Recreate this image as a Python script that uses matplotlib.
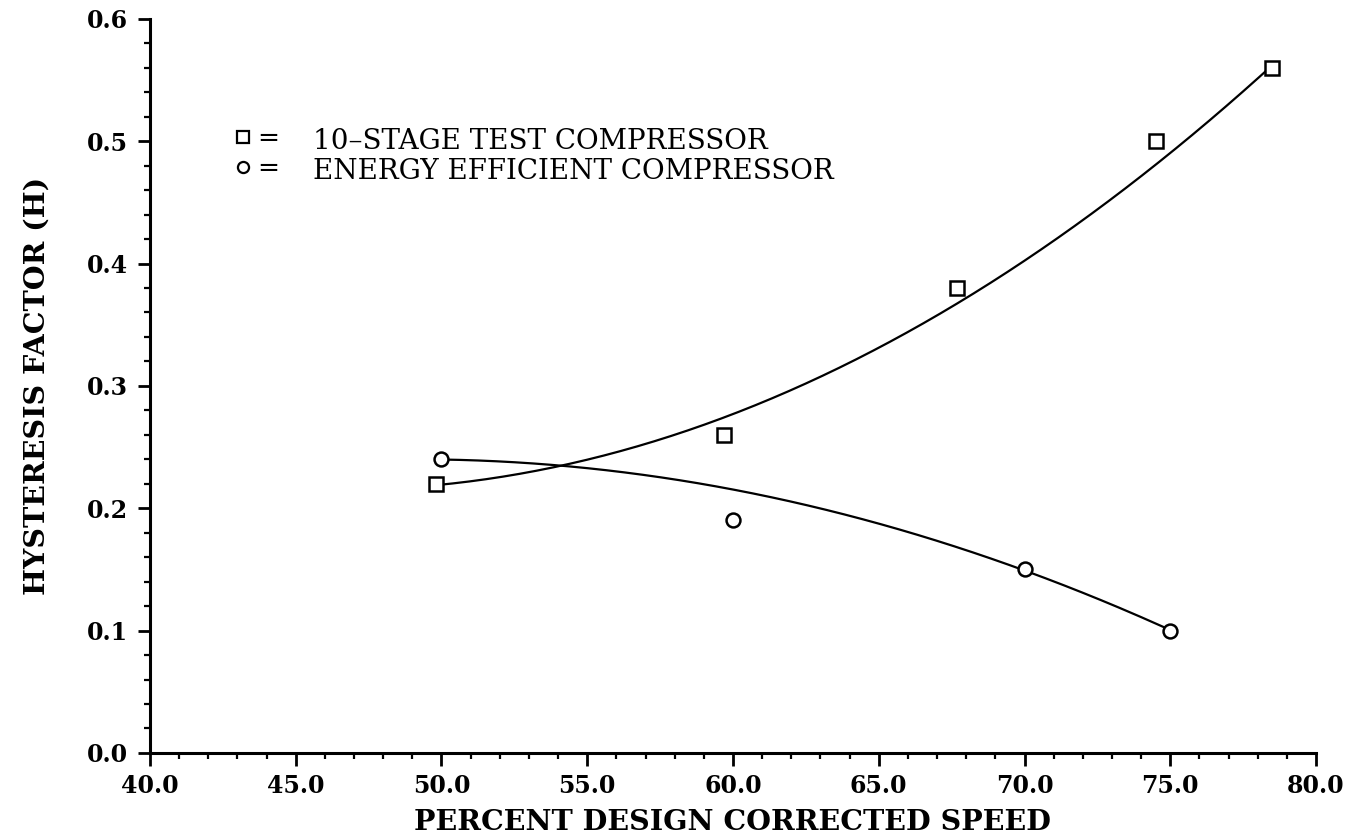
import matplotlib
matplotlib.use("Agg")
import matplotlib.pyplot as plt
from matplotlib.ticker import MultipleLocator, FormatStrFormatter
import numpy as np

# Measured hysteresis factor vs. corrected speed
speed_10stage = [49.8, 59.7, 67.7, 74.5, 78.5]
hyst_10stage = [0.22, 0.26, 0.38, 0.50, 0.56]
weights_10stage = [3.0, 1.5, 1.3, 1.0, 3.0]

speed_ee = [50.0, 60.0, 70.0, 75.0]
hyst_ee = [0.24, 0.19, 0.15, 0.10]
# the 60% point is treated as an outlier in the fairing
weights_ee = [1.0, 0.15, 1.0, 1.0]

legend_labels = ["10\u2013STAGE TEST COMPRESSOR", "ENERGY EFFICIENT COMPRESSOR"]

serif = ["DejaVu Serif"]
plt.rcParams["font.family"] = serif

fig = plt.figure(figsize=(13.57, 8.38), dpi=100)
ax = fig.add_axes([0.1105, 0.1015, 0.8593, 0.876])


def fit_curve(x, y, deg, w=None):
    coef = np.polyfit(x, y, deg, w=w)
    xs = np.linspace(min(x), max(x), 200)
    return xs, np.polyval(coef, xs)


xs, ys = fit_curve(speed_10stage, hyst_10stage, 2, w=weights_10stage)
ax.plot(xs, ys, color="black", lw=1.6, zorder=2)
ax.plot(speed_10stage, hyst_10stage, "s", ms=10, mfc="white", mec="black",
        mew=1.8, zorder=3)

xs, ys = fit_curve(speed_ee, hyst_ee, 2, w=weights_ee)
ax.plot(xs, ys, color="black", lw=1.6, zorder=2)
ax.plot(speed_ee, hyst_ee, "o", ms=10, mfc="white", mec="black",
        mew=1.8, zorder=3)

ax.set_xlim(40, 80)
ax.set_ylim(0, 0.6)

for side in ["top", "right"]:
    ax.spines[side].set_visible(False)
for side in ["left", "bottom"]:
    ax.spines[side].set_linewidth(2.2)

ax.xaxis.set_major_locator(MultipleLocator(5))
ax.xaxis.set_minor_locator(MultipleLocator(1))
ax.yaxis.set_major_locator(MultipleLocator(0.1))
ax.yaxis.set_minor_locator(MultipleLocator(0.02))
ax.xaxis.set_major_formatter(FormatStrFormatter("%.1f"))
ax.yaxis.set_major_formatter(FormatStrFormatter("%.1f"))

ax.tick_params(which="major", direction="out", length=9, width=2,
               labelsize=17)
ax.tick_params(axis="x", which="major", pad=6)
ax.tick_params(axis="y", which="major", pad=7)
ax.tick_params(which="minor", direction="out", length=4, width=1.6)
for lab in ax.get_xticklabels() + ax.get_yticklabels():
    lab.set_fontweight("bold")

ax.set_xlabel("PERCENT DESIGN CORRECTED SPEED", fontweight="bold",
              fontsize=20.5, labelpad=8)
ax.set_ylabel("HYSTERESIS FACTOR (H)", fontweight="bold", fontsize=20.5,
              labelpad=26)

# Key in the upper left
for i, (mk, lab) in enumerate(zip(["s", "o"], legend_labels)):
    ym = 0.839 - i * 0.041
    ax.plot([0.08], [ym], mk, ms=8, mfc="white", mec="black", mew=1.6,
            transform=ax.transAxes, clip_on=False)
    ax.text(0.092, ym - 0.002, "=", transform=ax.transAxes, fontsize=19,
            va="center", ha="left")
    ax.text(0.14, ym - 0.006, lab, transform=ax.transAxes, fontsize=20,
            va="center", ha="left")

fig.savefig("out.png", dpi=100)
